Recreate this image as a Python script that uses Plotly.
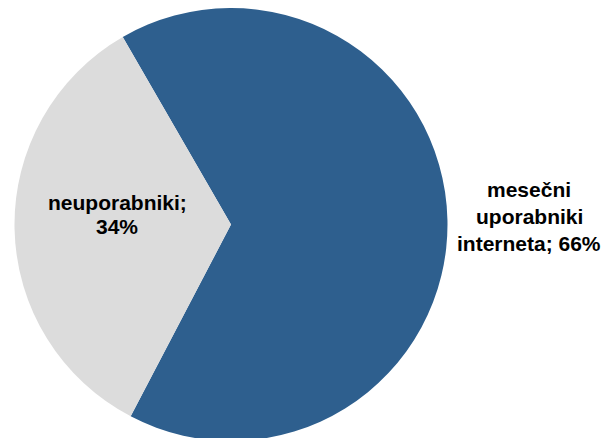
import plotly.graph_objects as go

# Share of monthly internet users vs. non-users
labels = ["mesečni uporabniki interneta", "neuporabniki"]
values = [66, 34]
colors = ["#2E5F8E", "#DCDCDC"]

# label lines for each slice (the last line carries the value)
label_lines = [["mesečni", "uporabniki", "interneta;"], ["neuporabniki;"]]

W, H = 605, 446
cx, cy, r = 231, 224.5, 216.5

fig = go.Figure(
    go.Pie(
        labels=labels,
        values=values,
        sort=False,
        direction="clockwise",
        rotation=-30,
        marker=dict(colors=colors, line=dict(width=0)),
        textinfo="none",
        hoverinfo="label+percent",
        showlegend=False,
        domain=dict(
            x=[(cx - r) / W, (cx + r) / W],
            y=[1 - (cy + r) / H, 1 - (cy - r) / H],
        ),
    )
)

font = dict(family="Liberation Sans, Arial, sans-serif", size=21, color="#000000")


def add_lines(lines, x_px, y_px_list):
    for text, y_px in zip(lines, y_px_list):
        fig.add_annotation(
            text=f"<b>{text}</b>",
            x=x_px / W,
            y=1 - y_px / H,
            xref="paper",
            yref="paper",
            xanchor="center",
            yanchor="middle",
            showarrow=False,
            font=font,
        )


# outside label of the users slice
blue_lines = label_lines[0][:-1] + [f"{label_lines[0][-1]} {values[0]}%"]
add_lines(blue_lines, 529, [189, 216, 243])

# inside label of the non-users slice
gray_lines = label_lines[1] + [f"{values[1]}%"]
add_lines(gray_lines, 117, [202, 226])

fig.update_layout(
    width=W,
    height=H,
    margin=dict(l=0, r=0, t=0, b=0),
    paper_bgcolor="#FFFFFF",
    plot_bgcolor="#FFFFFF",
)

fig.write_html(
    "out.html",
    post_script="document.documentElement.style.overflow='hidden';document.body.style.overflow='hidden';",
)
